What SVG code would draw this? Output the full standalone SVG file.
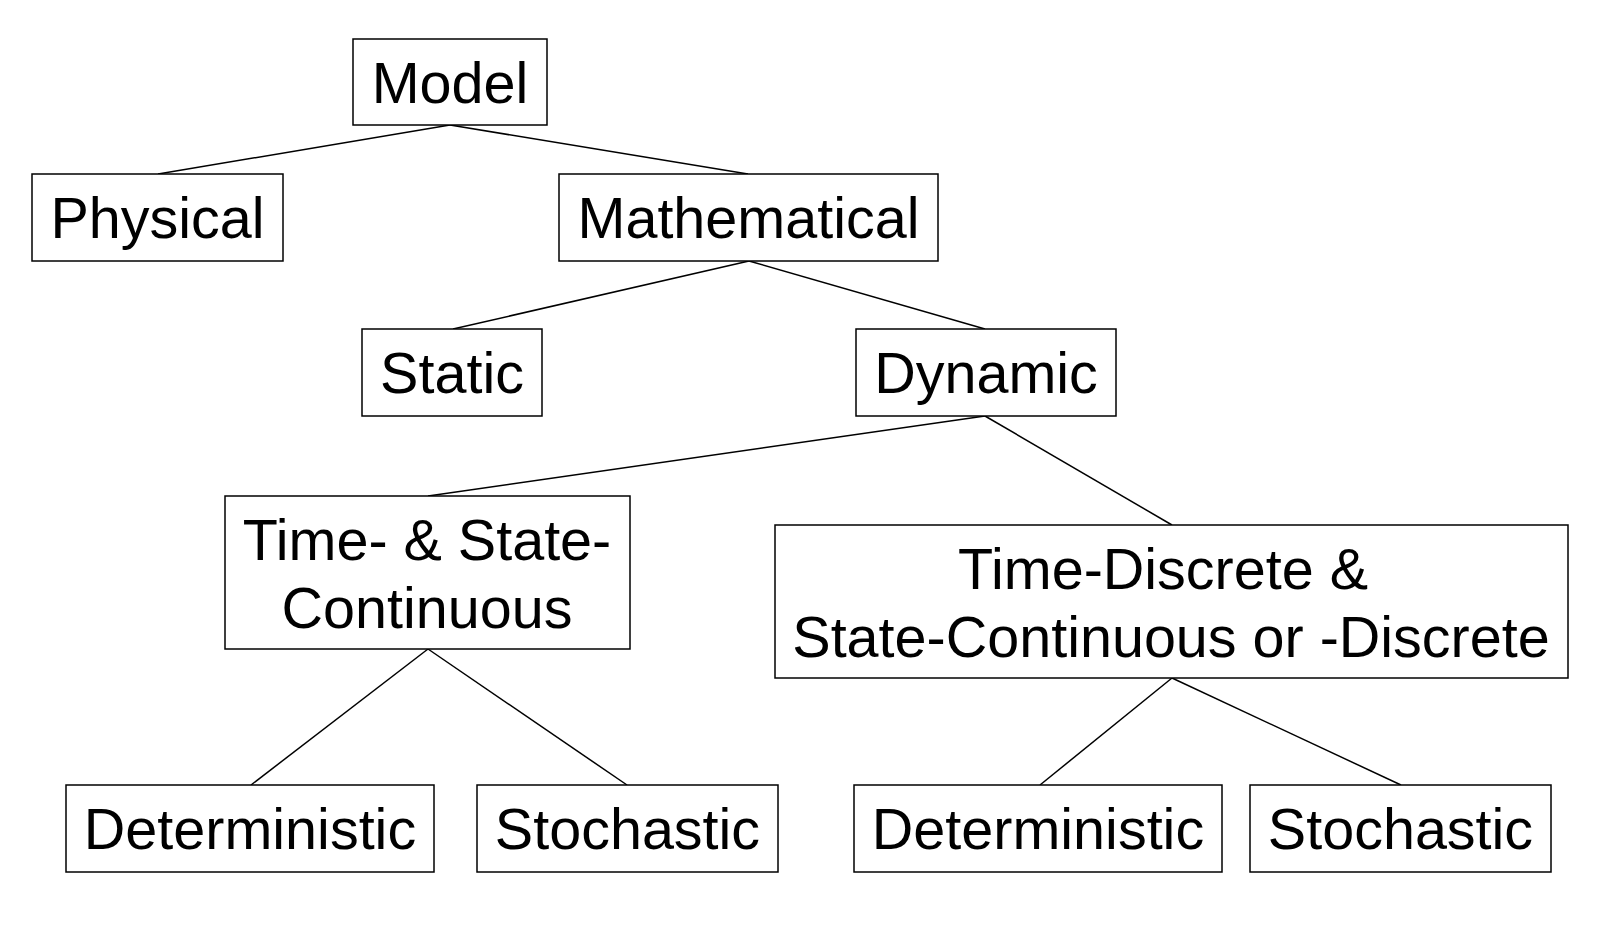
<svg xmlns="http://www.w3.org/2000/svg" width="1624" height="931" viewBox="0 0 1624 931">
<style>
.box{fill:#fff;stroke:#000;stroke-width:1.5}
.lbl{font-family:"Liberation Sans",Arial,sans-serif;font-size:57.5px;fill:#000;text-anchor:middle}
.edge{stroke:#000;stroke-width:1.5;fill:none}
</style>
<rect width="1624" height="931" fill="#fff"/>
<g id="connectors">
<line class="edge" x1="450" y1="125" x2="158" y2="174"/>
<line class="edge" x1="450" y1="125" x2="748" y2="174"/>
<line class="edge" x1="749" y1="261" x2="453" y2="329"/>
<line class="edge" x1="749" y1="261" x2="985" y2="329"/>
<line class="edge" x1="985" y1="416" x2="428" y2="496"/>
<line class="edge" x1="985" y1="416" x2="1172" y2="525"/>
<line class="edge" x1="428" y1="649" x2="251" y2="785"/>
<line class="edge" x1="428" y1="649" x2="627" y2="785"/>
<line class="edge" x1="1172" y1="678" x2="1040" y2="785"/>
<line class="edge" x1="1172" y1="678" x2="1401" y2="785"/>
</g>
<g id="model"><rect class="box" x="353" y="39" width="194" height="86"/><text class="lbl" x="450" y="103">Model</text></g>
<g id="physical"><rect class="box" x="32" y="174" width="251" height="87"/><text class="lbl" x="157.5" y="238">Physical</text></g>
<g id="mathematical"><rect class="box" x="559" y="174" width="379" height="87"/><text class="lbl" x="748.5" y="238">Mathematical</text></g>
<g id="static"><rect class="box" x="362" y="329" width="180" height="87"/><text class="lbl" x="452" y="393">Static</text></g>
<g id="dynamic"><rect class="box" x="856" y="329" width="260" height="87"/><text class="lbl" x="986" y="393">Dynamic</text></g>
<g id="time-state-continuous"><rect class="box" x="225" y="496" width="405" height="153"/><text class="lbl" x="427" y="560">Time- &amp; State-</text><text class="lbl" x="427" y="628">Continuous</text></g>
<g id="time-discrete"><rect class="box" x="775" y="525" width="793" height="153"/><text class="lbl" x="1163" y="589">Time-Discrete &amp;</text><text class="lbl" x="1171" y="657">State-Continuous or -Discrete</text></g>
<g id="deterministic-1"><rect class="box" x="66" y="785" width="368" height="87"/><text class="lbl" x="250" y="849">Deterministic</text></g>
<g id="stochastic-1"><rect class="box" x="477" y="785" width="301" height="87"/><text class="lbl" x="627.5" y="849">Stochastic</text></g>
<g id="deterministic-2"><rect class="box" x="854" y="785" width="368" height="87"/><text class="lbl" x="1038" y="849">Deterministic</text></g>
<g id="stochastic-2"><rect class="box" x="1250" y="785" width="301" height="87"/><text class="lbl" x="1400.5" y="849">Stochastic</text></g>
</svg>
